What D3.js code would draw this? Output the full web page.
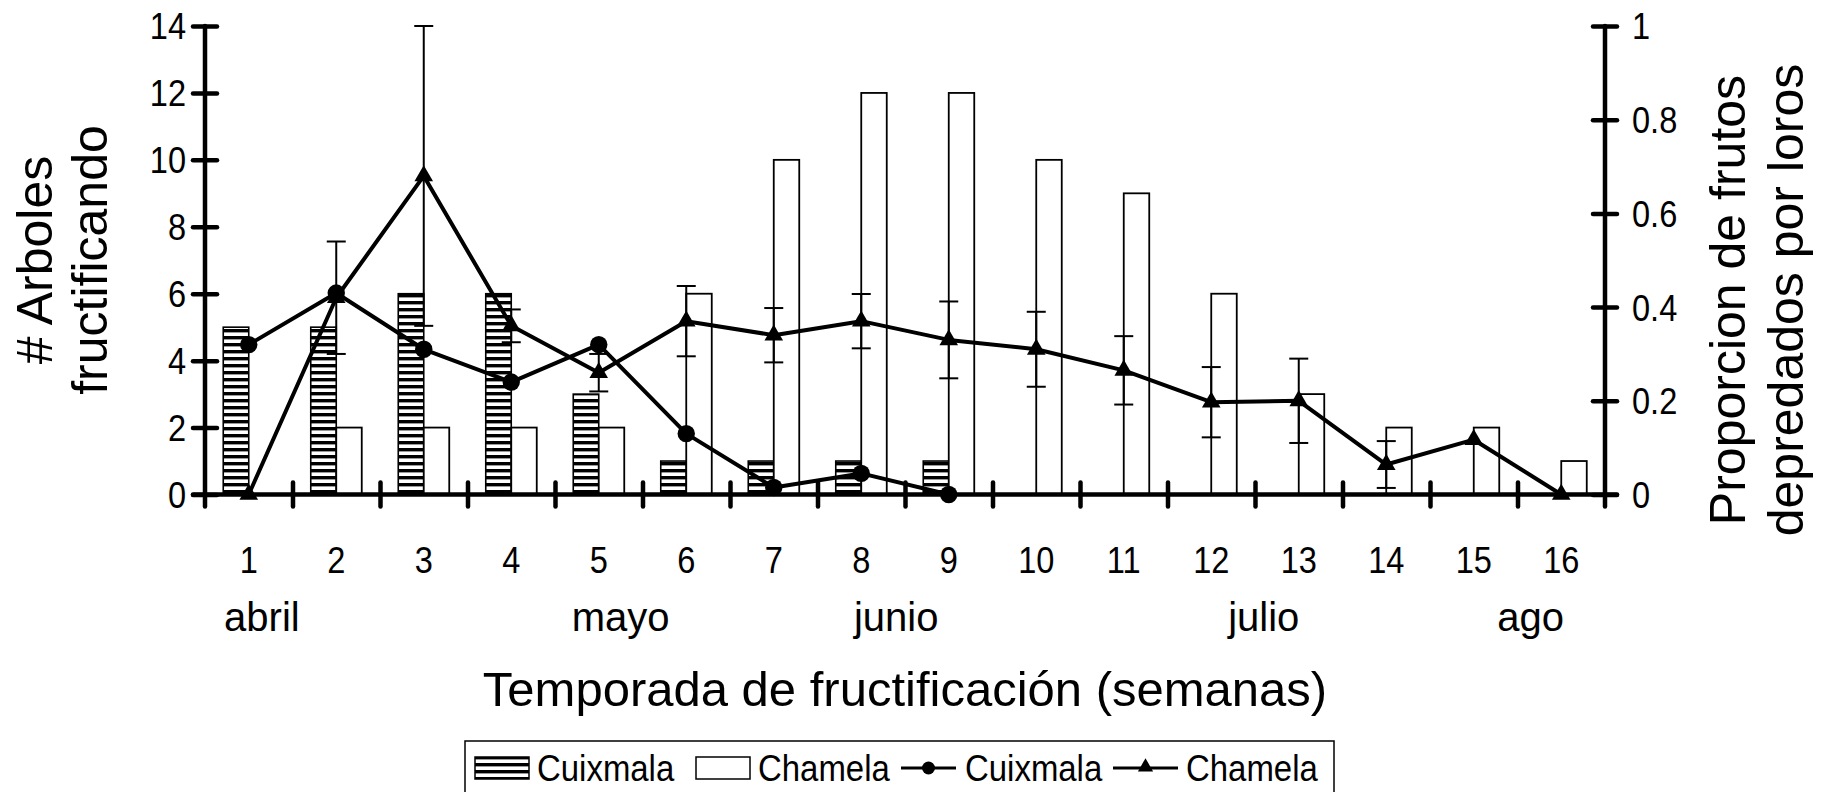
<!DOCTYPE html>
<html>
<head>
<meta charset="utf-8">
<script src="https://cdn.jsdelivr.net/npm/d3@7"></script>
<style>
  html, body { margin: 0; padding: 0; background: #fff; }
  svg { display: block; font-family: "Liberation Sans", Arial, sans-serif; }
</style>
</head>
<body>
<svg id="chart" width="1823" height="792"></svg>
<script>
// Week categories of the fruiting season
const weeks = ["1","2","3","4","5","6","7","8","9","10","11","12","13","14","15","16"];

// Number of fruiting trees per week (bars, left axis)
const arbolesCuixmala = [5, 5, 6, 6, 3, 1, 1, 1, 1, 0, 0, 0, 0, 0, 0, 0];
const arbolesChamela  = [0, 2, 2, 2, 2, 6, 10, 12, 12, 10, 9, 6, 3, 2, 2, 1];

// Proportion of fruits taken by parrots (lines, right axis)
const depredCuixmala = [0.32, 0.43, 0.31, 0.24, 0.32, 0.13, 0.015, 0.045, 0];
const depredChamela  = [0, 0.42, 0.68, 0.36, 0.26, 0.37, 0.34, 0.37, 0.33, 0.31, 0.265, 0.197, 0.20, 0.064, 0.117, 0];
const errChamela     = [0, 0.12, 0.32, 0.035, 0.04, 0.075, 0.058, 0.058, 0.082, 0.08, 0.073, 0.075, 0.09, 0.05, 0, 0];

// Axis ticks
const leftTicks = [0, 2, 4, 6, 8, 10, 12, 14];
const rightTicks = [0, 0.2, 0.4, 0.6, 0.8, 1];

// Month names and the week where each is written
const monthNames = ["abril", "mayo", "junio", "julio", "ago"];
const monthWeeks = [1.15, 5.25, 8.4, 12.6, 15.65];

// Text
const leftTitle = ["# Arboles", "fructificando"];
const rightTitle = ["Proporcion de frutos", "depredados por loros"];
const bottomTitle = "Temporada de fructificación (semanas)";
const legendNames = ["Cuixmala", "Chamela", "Cuixmala", "Chamela"];

const svg = d3.select("#chart");
const plot = { left: 205, right: 1605, top: 26, bottom: 494.5 };

const x = d3.scaleBand().domain(weeks).range([plot.left, plot.right]).padding(0);
const xWeek = d3.scaleLinear().domain([0.5, 16.5]).range([plot.left, plot.right]);
const yL = d3.scaleLinear().domain([0, 14]).range([plot.bottom, plot.top]);
const yR = d3.scaleLinear().domain([0, 1]).range([plot.bottom, plot.top]);

const barW = 25.5;
const cx = w => x(w) + x.bandwidth() / 2;

// Narrow the glyphs of a text selection horizontally
function condense(sel, k) {
  sel.each(function () {
    const len = this.getComputedTextLength();
    d3.select(this).attr("textLength", len * k).attr("lengthAdjust", "spacingAndGlyphs");
  });
}

// Horizontal stripe fill for the Cuixmala bars
const defs = svg.append("defs");
const pat = defs.append("pattern")
  .attr("id", "stripes").attr("patternUnits", "userSpaceOnUse")
  .attr("width", 8).attr("height", 7);
pat.append("rect").attr("width", 8).attr("height", 7).attr("fill", "#fff");
pat.append("rect").attr("y", 0).attr("width", 8).attr("height", 3.4).attr("fill", "#000");

// Bars
const barData = weeks.map((w, i) => ({ w, cux: arbolesCuixmala[i], cha: arbolesChamela[i] }));
svg.append("g").selectAll("rect")
  .data(barData.filter(d => d.cux > 0)).join("rect")
  .attr("x", d => cx(d.w) - barW).attr("width", barW)
  .attr("y", d => yL(d.cux)).attr("height", d => yL(0) - yL(d.cux))
  .attr("fill", "url(#stripes)").attr("stroke", "#000").attr("stroke-width", 1.6);
svg.append("g").selectAll("rect")
  .data(barData.filter(d => d.cha > 0)).join("rect")
  .attr("x", d => cx(d.w)).attr("width", barW)
  .attr("y", d => yL(d.cha)).attr("height", d => yL(0) - yL(d.cha))
  .attr("fill", "#fff").attr("stroke", "#000").attr("stroke-width", 1.8);

// Axes
const axisW = 4.5, tickHalf = 12, tickFont = 37, tickK = 0.88;
function styleAxis(g) {
  g.select(".domain").remove();
  g.selectAll(".tick line").attr("stroke", "#000").attr("stroke-width", axisW).attr("stroke-linecap", "round");
  g.selectAll(".tick text").attr("fill", "#000");
}

const gL = svg.append("g").attr("transform", `translate(${plot.left},0)`)
  .call(d3.axisLeft(yL).tickValues(leftTicks).tickFormat(d3.format("d")).tickSizeOuter(0));
styleAxis(gL);
gL.selectAll(".tick line").attr("x1", -tickHalf).attr("x2", tickHalf);
gL.selectAll(".tick text").attr("x", -19).attr("dy", "0.35em").attr("font-size", tickFont).call(condense, tickK);
gL.append("line").attr("y1", plot.top).attr("y2", plot.bottom + tickHalf)
  .attr("stroke", "#000").attr("stroke-width", axisW).attr("stroke-linecap", "round");

const gR = svg.append("g").attr("transform", `translate(${plot.right},0)`)
  .call(d3.axisRight(yR).tickValues(rightTicks).tickFormat(d => d3.format("")(+d.toFixed(1))).tickSizeOuter(0));
styleAxis(gR);
gR.selectAll(".tick line").attr("x1", -tickHalf).attr("x2", tickHalf);
gR.selectAll(".tick text").attr("x", 27).attr("dy", "0.35em").attr("font-size", tickFont)
  .attr("text-anchor", "start").call(condense, tickK);
gR.append("line").attr("y1", plot.top).attr("y2", plot.bottom + tickHalf)
  .attr("stroke", "#000").attr("stroke-width", axisW).attr("stroke-linecap", "round");

// Week boundary ticks on the bottom axis
const gB = svg.append("g").attr("transform", `translate(0,${plot.bottom})`)
  .call(d3.axisBottom(xWeek).tickValues(d3.range(1.5, 16, 1)).tickFormat("").tickSizeOuter(0));
styleAxis(gB);
gB.selectAll(".tick line").attr("y1", -tickHalf).attr("y2", tickHalf);
gB.append("line").attr("x1", plot.left - tickHalf).attr("x2", plot.right + tickHalf)
  .attr("stroke", "#000").attr("stroke-width", axisW).attr("stroke-linecap", "round");

// Week labels
const gW = svg.append("g").attr("transform", `translate(0,${plot.bottom})`)
  .call(d3.axisBottom(x).tickSize(0).tickPadding(0));
gW.select(".domain").remove();
gW.selectAll(".tick text").attr("y", 78).attr("dy", 0).attr("font-size", tickFont)
  .attr("fill", "#000").call(condense, tickK);

// Month labels
svg.append("g").selectAll("text").data(monthNames).join("text")
  .attr("x", (d, i) => xWeek(monthWeeks[i])).attr("y", 631)
  .attr("text-anchor", "middle").attr("font-size", 40).text(d => d);

// Axis titles
svg.append("text").attr("x", 905).attr("y", 706).attr("text-anchor", "middle")
  .attr("font-size", 49).text(bottomTitle);

const tL = svg.append("text").attr("transform", "translate(0,260) rotate(-90)")
  .attr("text-anchor", "middle").attr("font-size", 50);
tL.selectAll("tspan").data(leftTitle).join("tspan")
  .attr("x", 0).attr("y", (d, i) => [52, 107][i]).text(d => d);

const tR = svg.append("text").attr("transform", "translate(0,300) rotate(-90)")
  .attr("text-anchor", "middle").attr("font-size", 50);
tR.selectAll("tspan").data(rightTitle).join("tspan")
  .attr("x", 0).attr("y", (d, i) => [1745, 1803][i]).text(d => d);

// Error bars for Chamela
const errData = weeks.map((w, i) => ({ w, v: depredChamela[i], e: errChamela[i] })).filter(d => d.e > 0);
const gE = svg.append("g").attr("stroke", "#000").attr("stroke-width", 2);
gE.selectAll("line.v").data(errData).join("line").attr("class", "v")
  .attr("x1", d => cx(d.w)).attr("x2", d => cx(d.w))
  .attr("y1", d => yR(d.v + d.e)).attr("y2", d => yR(d.v - d.e));
gE.selectAll("line.t").data(errData).join("line").attr("class", "t")
  .attr("x1", d => cx(d.w) - 9.5).attr("x2", d => cx(d.w) + 9.5)
  .attr("y1", d => yR(d.v + d.e)).attr("y2", d => yR(d.v + d.e));
gE.selectAll("line.b").data(errData).join("line").attr("class", "b")
  .attr("x1", d => cx(d.w) - 9.5).attr("x2", d => cx(d.w) + 9.5)
  .attr("y1", d => yR(d.v - d.e)).attr("y2", d => yR(d.v - d.e));

// Lines
const line = d3.line().x(d => cx(d.w)).y(d => yR(d.v));
const cuxPts = depredCuixmala.map((v, i) => ({ w: weeks[i], v }));
const chaPts = depredChamela.map((v, i) => ({ w: weeks[i], v }));
svg.append("path").datum(cuxPts).attr("d", line)
  .attr("fill", "none").attr("stroke", "#000").attr("stroke-width", 4).attr("stroke-linejoin", "round");
svg.append("path").datum(chaPts).attr("d", line)
  .attr("fill", "none").attr("stroke", "#000").attr("stroke-width", 4).attr("stroke-linejoin", "round");

// Markers
svg.append("g").selectAll("circle").data(cuxPts).join("circle")
  .attr("cx", d => cx(d.w)).attr("cy", d => yR(d.v)).attr("r", 8.7).attr("fill", "#000");
const tri = d3.symbol(d3.symbolTriangle).size(150);
svg.append("g").selectAll("path").data(chaPts).join("path")
  .attr("d", tri).attr("transform", d => `translate(${cx(d.w)},${yR(d.v)})`).attr("fill", "#000");

// Legend
const lg = svg.append("g");
lg.append("rect").attr("x", 465).attr("y", 741).attr("width", 869).attr("height", 60)
  .attr("fill", "#fff").attr("stroke", "#000").attr("stroke-width", 1.5);
const legY = 768;
lg.append("rect").attr("x", 475).attr("y", legY - 11).attr("width", 54).attr("height", 22)
  .attr("fill", "url(#stripes)").attr("stroke", "#000").attr("stroke-width", 1.5);
lg.append("rect").attr("x", 696).attr("y", legY - 11).attr("width", 54).attr("height", 22)
  .attr("fill", "#fff").attr("stroke", "#000").attr("stroke-width", 1.5);
lg.append("line").attr("x1", 901).attr("x2", 956).attr("y1", legY).attr("y2", legY)
  .attr("stroke", "#000").attr("stroke-width", 3);
lg.append("circle").attr("cx", 928.5).attr("cy", legY).attr("r", 6.5).attr("fill", "#000");
lg.append("line").attr("x1", 1113).attr("x2", 1178).attr("y1", legY).attr("y2", legY)
  .attr("stroke", "#000").attr("stroke-width", 3);
lg.append("path").attr("d", d3.symbol(d3.symbolTriangle).size(100))
  .attr("transform", `translate(1145.5,${legY - 1})`).attr("fill", "#000");
const legTextX = [537, 758, 965, 1186];
lg.selectAll("text").data(legendNames).join("text")
  .attr("x", (d, i) => legTextX[i]).attr("y", legY + 13)
  .attr("font-size", 37).text(d => d).call(condense, 0.89);
</script>
</body>
</html>
